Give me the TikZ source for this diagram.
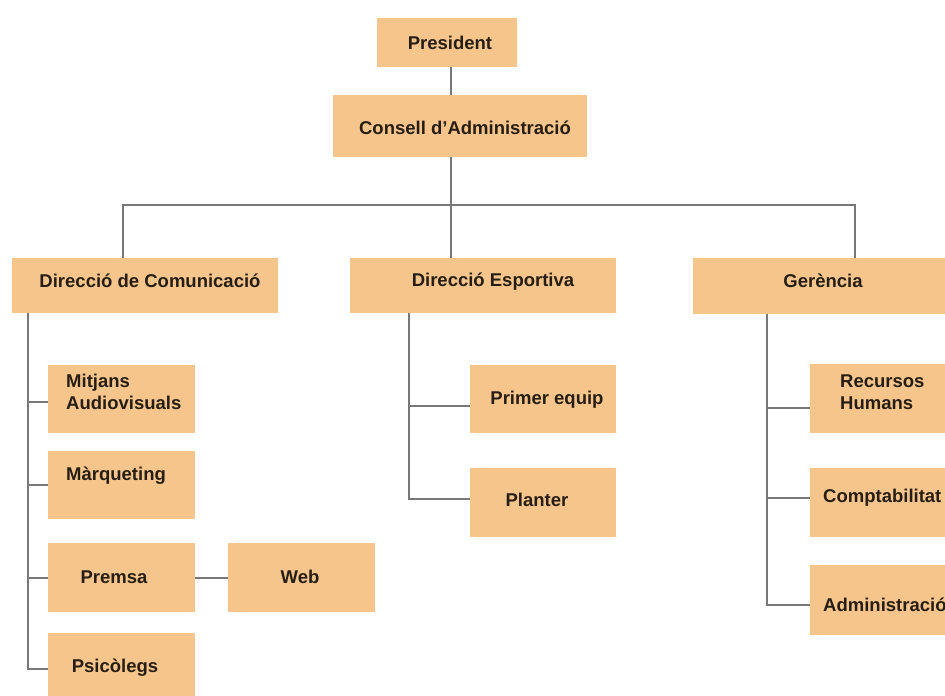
\documentclass[tikz,border=0pt]{standalone}
\usepackage{fontspec}
\setmainfont{Liberation Sans}
\definecolor{boxc}{RGB}{246,197,140}
\definecolor{linec}{RGB}{120,120,120}
\definecolor{txtc}{RGB}{38,30,20}
\begin{document}
\begin{tikzpicture}[x=1pt,y=-1pt,
  box/.style={fill=boxc, draw=none, inner sep=0pt, anchor=north west},
  lbl/.style={font=\fontsize{18.5}{22}\selectfont\bfseries, text=txtc, inner sep=0pt, align=left},
  conn/.style={draw=linec, line width=1.6pt}]
\useasboundingbox (0,0) rectangle (945,696);
\clip (0,0) rectangle (945,696);
\fill[white] (0,0) rectangle (945,696);
% boxes
\node[box, minimum width=140pt, minimum height=49pt] (pres) at (377,18) {};
\node[box, minimum width=254pt, minimum height=62pt] (cons) at (333,95) {};
\node[box, minimum width=266pt, minimum height=55pt] (dcom) at (12,258) {};
\node[box, minimum width=266pt, minimum height=55pt] (desp) at (350,258) {};
\node[box, minimum width=270pt, minimum height=56pt] (ger) at (693,258) {};
\node[box, minimum width=147pt, minimum height=68pt] (mit) at (48,365) {};
\node[box, minimum width=147pt, minimum height=68pt] (mar) at (48,451) {};
\node[box, minimum width=147pt, minimum height=69pt] (prem) at (48,543) {};
\node[box, minimum width=147pt, minimum height=69pt] (psic) at (48,633) {};
\node[box, minimum width=147pt, minimum height=69pt] (web) at (228,543) {};
\node[box, minimum width=146pt, minimum height=68pt] (prim) at (470,365) {};
\node[box, minimum width=146pt, minimum height=69pt] (plan) at (470,468) {};
\node[box, minimum width=150pt, minimum height=69pt] (rec) at (810,364) {};
\node[box, minimum width=150pt, minimum height=69pt] (comp) at (810,468) {};
\node[box, minimum width=150pt, minimum height=70pt] (adm) at (810,565) {};
% labels
\node[lbl] (presT) at (450,43) {President};
\node[lbl] (consT) at (465,128) {Consell d’Administració};
\node[lbl] (dcomT) at (150,281) {Direcció de Comunicació};
\node[lbl] (despT) at (493,282) {Direcció Esportiva};
\node[lbl] (gerT) at (823,281) {Gerència};
\node[lbl, anchor=west] (mitT) at (66,392) {Mitjans\\Audiovisuals};
\node[lbl, anchor=west] (marT) at (66,476) {Màrqueting};
\node[lbl] (premT) at (114,577) {Premsa};
\node[lbl] (webT) at (300,577) {Web};
\node[lbl] (psicT) at (115,668) {Psicòlegs};
\node[lbl] (primT) at (547,400) {Primer equip};
\node[lbl] (planT) at (537,500) {Planter};
\node[lbl, anchor=west] (recT) at (840,392) {Recursos\\Humans};
\node[lbl, anchor=west] (compT) at (823,498) {Comptabilitat};
\node[lbl, anchor=west] (admT) at (823,605) {Administració};
% connector coordinates
\coordinate (cx) at (451,0);
\coordinate (bus) at (0,205);
\coordinate (lx) at (123,0);
\coordinate (rx) at (855,0);
\coordinate (s1) at (28,0);
\coordinate (s2) at (409,0);
\coordinate (s3) at (767,0);
% connectors
\draw[conn] (pres.south -| cx) -- (cons.north -| cx);
\draw[conn] (cons.south -| cx) -- (desp.north -| cx);
\draw[conn] (dcom.north -| lx) |- (bus -| rx) -- (ger.north -| rx);
\draw[conn] (dcom.south -| s1) -- ([yshift=-1.5pt]psic.west -| s1) -- ([yshift=-1.5pt]psic.west);
\draw[conn] ([yshift=-3pt]mit.west -| s1) -- ([yshift=-3pt]mit.west);
\draw[conn] (mar.west -| s1) -- (mar.west);
\draw[conn] (prem.west -| s1) -- (prem.west);
\draw[conn] (prem.east) -- (web.west);
\draw[conn] (desp.south -| s2) -- ([yshift=3.5pt]plan.west -| s2) -- ([yshift=3.5pt]plan.west);
\draw[conn] ([yshift=-7pt]prim.west -| s2) -- ([yshift=-7pt]prim.west);
\draw[conn] (ger.south -| s3) -- ([yshift=-5pt]adm.west -| s3) -- ([yshift=-5pt]adm.west);
\draw[conn] ([yshift=-9.5pt]rec.west -| s3) -- ([yshift=-9.5pt]rec.west);
\draw[conn] ([yshift=4.5pt]comp.west -| s3) -- ([yshift=4.5pt]comp.west);
\end{tikzpicture}
\end{document}
